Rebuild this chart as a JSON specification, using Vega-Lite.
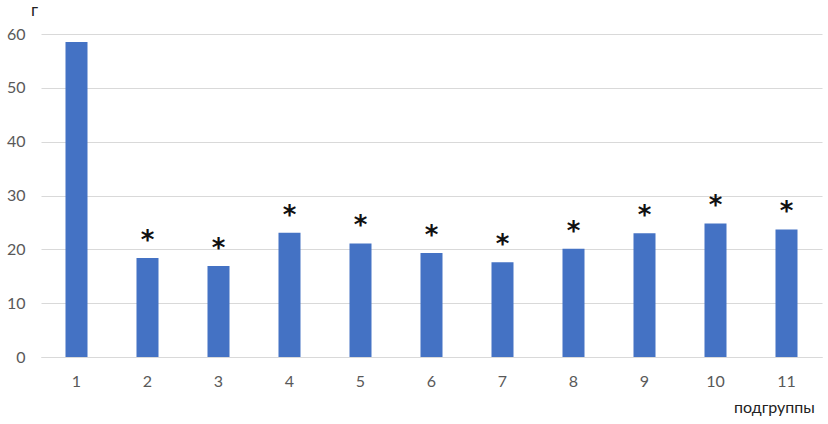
{
  "$schema": "https://vega.github.io/schema/vega-lite/v6.json",
  "width": 781,
  "height": 323,
  "autosize": {"type": "none"},
  "padding": {"left": 41, "top": 34, "right": 6, "bottom": 67},
  "background": "white",
  "config": {
    "view": {"stroke": null},
    "font": "Lato"
  },
  "data": {
    "values": [
      {"group": "1", "value": 58.5, "sig": ""},
      {"group": "2", "value": 18.4, "sig": "*"},
      {"group": "3", "value": 16.9, "sig": "*"},
      {"group": "4", "value": 23.1, "sig": "*"},
      {"group": "5", "value": 21.1, "sig": "*"},
      {"group": "6", "value": 19.3, "sig": "*"},
      {"group": "7", "value": 17.6, "sig": "*"},
      {"group": "8", "value": 20.1, "sig": "*"},
      {"group": "9", "value": 23.0, "sig": "*"},
      {"group": "10", "value": 24.8, "sig": "*"},
      {"group": "11", "value": 23.7, "sig": "*"}
    ]
  },
  "encoding": {
    "x": {
      "field": "group",
      "type": "ordinal",
      "sort": null,
      "scale": {"paddingInner": 0.69, "paddingOuter": 0.345},
      "axis": {
        "title": "подгруппы",
        "titleFont": "Lato",
        "titleFontSize": 16,
        "titleFontWeight": "normal",
        "titleColor": "#222222",
        "titleX": 733,
        "titleY": 55,
        "titleAlign": "center",
        "titleBaseline": "alphabetic",
        "labelAngle": 0,
        "labelFontSize": 16,
        "labelColor": "#595959",
        "labelPadding": 16,
        "domain": true,
        "domainColor": "#d9d9d9",
        "ticks": false
      }
    },
    "y": {
      "field": "value",
      "type": "quantitative",
      "scale": {"domain": [0, 60]},
      "axis": {
        "title": "г",
        "titleFont": "Lato",
        "titleFontSize": 17,
        "titleFontWeight": "normal",
        "titleColor": "#222222",
        "titleAngle": 0,
        "titleX": -7,
        "titleY": -24,
        "titleAlign": "center",
        "titleBaseline": "middle",
        "values": [0, 10, 20, 30, 40, 50, 60],
        "labelFontSize": 16,
        "labelColor": "#595959",
        "labelPadding": 16,
        "domain": false,
        "ticks": false,
        "grid": true,
        "gridColor": "#d9d9d9",
        "gridWidth": 1
      }
    }
  },
  "layer": [
    {
      "mark": {"type": "bar", "color": "#4472C4"}
    },
    {
      "mark": {"type": "text", "dy": -4, "fontSize": 26, "fontWeight": "bold", "color": "#111111", "baseline": "bottom", "font": "DejaVu Sans"},
      "encoding": {"text": {"field": "sig"}}
    }
  ]
}
